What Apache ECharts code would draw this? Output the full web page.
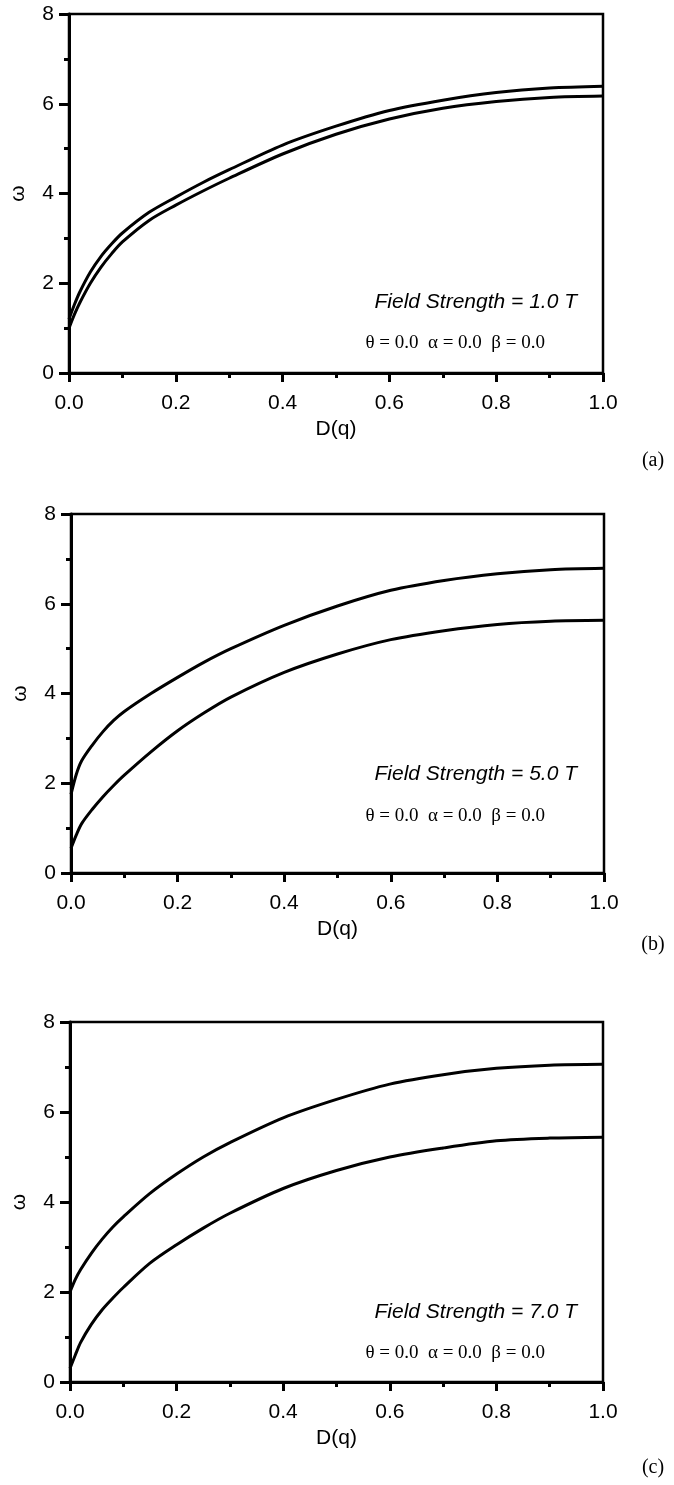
<!DOCTYPE html>
<html><head><meta charset="utf-8">
<script src="https://cdn.jsdelivr.net/npm/echarts@6/dist/echarts.min.js"></script>
<style>html,body{margin:0;padding:0;background:#fff}#c{width:674px;height:1485px}</style>
</head><body><div id="c"></div>
<script>
// D(q) sample positions (shared by all curves)
const dq = [0, 0.01, 0.02, 0.04, 0.06, 0.08, 0.1, 0.15, 0.2, 0.25, 0.3, 0.4, 0.5, 0.6, 0.7, 0.8, 0.9, 1.0];
// Panel (a): Field Strength = 1.0 T
const aUpper = [1.2, 1.52, 1.8, 2.25, 2.6, 2.88, 3.12, 3.58, 3.92, 4.24, 4.53, 5.08, 5.5, 5.85, 6.08, 6.25, 6.35, 6.39];
const aLower = [1.0, 1.3, 1.56, 2.0, 2.36, 2.66, 2.92, 3.4, 3.74, 4.05, 4.34, 4.88, 5.32, 5.66, 5.9, 6.05, 6.14, 6.17];
// Panel (b): Field Strength = 5.0 T
const bUpper = [1.75, 2.2, 2.5, 2.85, 3.15, 3.4, 3.6, 4.0, 4.36, 4.7, 5.0, 5.52, 5.95, 6.3, 6.52, 6.67, 6.76, 6.79];
const bLower = [0.55, 0.85, 1.1, 1.42, 1.7, 1.95, 2.18, 2.7, 3.17, 3.57, 3.92, 4.47, 4.88, 5.2, 5.4, 5.54, 5.61, 5.63];
// Panel (c): Field Strength = 7.0 T
const cUpper = [2.0, 2.28, 2.5, 2.86, 3.17, 3.44, 3.67, 4.19, 4.62, 5.0, 5.32, 5.87, 6.28, 6.62, 6.83, 6.97, 7.04, 7.06];
const cLower = [0.3, 0.6, 0.88, 1.28, 1.6, 1.86, 2.1, 2.64, 3.05, 3.42, 3.75, 4.3, 4.7, 5.0, 5.2, 5.36, 5.42, 5.44];

const panelLabels = ['(a)', '(b)', '(c)'];
const fieldTexts = ['Field Strength = 1.0 T', 'Field Strength = 5.0 T', 'Field Strength = 7.0 T'];
const angleText = 'θ = 0.0  α = 0.0  β = 0.0';
const xName = 'D(q)';
const yName = 'ω';

const panels = [[aUpper, aLower], [bUpper, bLower], [cUpper, cLower]];
const grids = [
  {left: 69, top: 14, width: 534, height: 359},
  {left: 71, top: 514, width: 533, height: 359},
  {left: 70, top: 1022, width: 533, height: 360}
];
const sans = 'Liberation Sans, Arial, sans-serif';
const serif = 'Liberation Serif, Times New Roman, serif';
const black = '#000';

const option = {
  animation: false,
  backgroundColor: '#fff',
  grid: grids.map(g => Object.assign({show: true, borderColor: black, borderWidth: 2.5, backgroundColor: 'transparent'}, g)),
  xAxis: grids.map((g, i) => ({
    type: 'value', gridIndex: i, min: 0, max: 1, interval: 0.2,
    axisLine: {show: true, onZero: false, lineStyle: {color: black, width: 3}},
    axisTick: {show: true, length: 9, lineStyle: {color: black, width: 3}},
    minorTick: {show: true, splitNumber: 2, length: 5, lineStyle: {color: black, width: 3}},
    splitLine: {show: false},
    axisLabel: {color: black, fontSize: 21, fontFamily: sans, margin: 20, formatter: v => v.toFixed(1)},
    name: xName, nameLocation: 'middle', nameGap: 46,
    nameTextStyle: {color: black, fontSize: 21, fontFamily: sans}
  })),
  yAxis: grids.map((g, i) => ({
    type: 'value', gridIndex: i, min: 0, max: 8, interval: 2,
    axisLine: {show: true, onZero: false, lineStyle: {color: black, width: 3}},
    axisTick: {show: true, length: 10, lineStyle: {color: black, width: 3}},
    minorTick: {show: true, splitNumber: 2, length: 5, lineStyle: {color: black, width: 3}},
    splitLine: {show: false},
    axisLabel: {color: black, fontSize: 21, fontFamily: sans, margin: 15},
    name: yName, nameLocation: 'middle', nameGap: 40,
    nameTextStyle: {color: black, fontSize: 21, fontFamily: sans}
  })),
  series: [],
  graphic: []
};
panels.forEach((pair, i) => {
  pair.forEach(vals => {
    option.series.push({
      type: 'line', xAxisIndex: i, yAxisIndex: i,
      data: dq.map((x, k) => [x, vals[k]]),
      smooth: 0.3, showSymbol: false, symbol: 'none',
      lineStyle: {color: black, width: 3}
    });
  });
});
const fsY = [302, 774, 1312];
const angY = [343, 816, 1353];
const labY = [461, 945, 1468];
grids.forEach((g, i) => {
  option.graphic.push({type: 'text', x: 577, y: fsY[i],
    style: {text: fieldTexts[i], fill: black, font: 'italic 21px ' + sans, textAlign: 'right', textVerticalAlign: 'middle'}});
  option.graphic.push({type: 'text', x: 545, y: angY[i],
    style: {text: angleText, fill: black, font: '19px ' + serif, textAlign: 'right', textVerticalAlign: 'middle'}});
  option.graphic.push({type: 'text', x: 653, y: labY[i],
    style: {text: panelLabels[i], fill: black, font: '20px ' + serif, textAlign: 'center', textVerticalAlign: 'middle'}});
});
const chart = echarts.init(document.getElementById('c'), null, {renderer: 'canvas'});
chart.setOption(option);
</script></body></html>
